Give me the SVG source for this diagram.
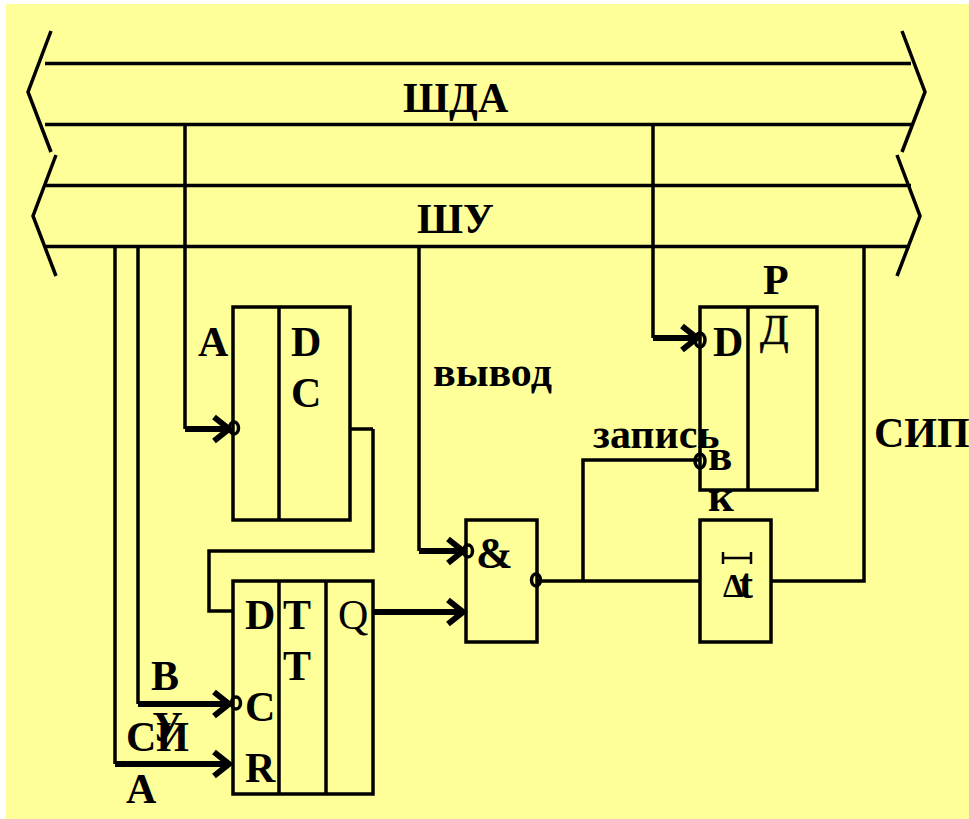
<svg xmlns="http://www.w3.org/2000/svg" width="969" height="819" viewBox="0 0 969 819">
<style>
.l{fill:none;stroke:#000;stroke-width:3.5}
.h{fill:none;stroke:#000;stroke-width:6}
.b{fill:none;stroke:#000;stroke-width:3.5}
.c{fill:none;stroke:#000;stroke-width:3.5}
text{font-family:"Liberation Serif","Times New Roman",serif;font-size:42px;fill:#000}
.w{font-weight:bold}
</style>
<rect id="background" width="969" height="819" fill="#fff"/>
<rect x="6" y="4" width="963" height="815" fill="#ffff99"/>
<g id="bus-sda">
<path class="l" d="M51 31L28 92L51 152M902 31L925 92L902 152M45 63.5H911M45 124.5H912"/>
<text class="w" x="403" y="112">ШДА</text>
</g>
<g id="bus-su">
<path class="l" d="M56 155L33 216L56 276M897 155L920 216L897 276M45 185.5H911M45 246.5H910"/>
<text class="w" x="417" y="233">ШУ</text>
</g>
<g id="connectors">
<path class="l" d="M185 124V429M653 124V338M419 246V551M115 246V764M138 246V704M864 246V581H772M373 429V551H209V611H232M350 429H373M537 581H700M583 581V460H700"/>
<path class="h" d="M185 429H228M214 417L229 429L214 441M653 338H696M682 326L697 338L682 350M419 551H462M448 539L463 551L448 563M138 704H228M214 692L229 704L214 716M115 764H228M214 752L229 764L214 776M373 612H462M448 600L463 612L448 624"/>
</g>
<g id="decoder">
<rect class="b" x="233" y="307" width="117" height="213"/>
<path class="b" d="M279 307V520"/>
<ellipse class="c" cx="234" cy="428" rx="4.5" ry="6"/>
<text class="w" x="198" y="356">А</text>
<text class="w" x="291" y="356">D</text>
<text class="w" x="291" y="407">C</text>
</g>
<g id="trigger">
<rect class="b" x="233" y="581" width="140" height="213"/>
<path class="b" d="M279 581V794M326 581V794"/>
<ellipse class="c" cx="236" cy="703" rx="4.5" ry="6"/>
<text class="w" x="245" y="629">D</text>
<text class="w" x="283" y="629">T</text>
<text class="w" x="283" y="680">T</text>
<text x="338" y="629">Q</text>
<text class="w" x="245" y="721">C</text>
<text class="w" x="245" y="782">R</text>
<text class="w" x="151" y="690">В</text>
<text class="w" x="152" y="741">У</text>
<text class="w" x="126" y="751">СИ</text>
<text class="w" x="126" y="803">А</text>
</g>
<g id="and-gate">
<rect class="b" x="466" y="520" width="71" height="122"/>
<ellipse class="c" cx="468" cy="551" rx="4.5" ry="6"/>
<ellipse class="c" cx="536" cy="580" rx="4.5" ry="6"/>
<text class="w" x="476" y="568" style="font-size:44px">&amp;</text>
</g>
<g id="register">
<rect class="b" x="700" y="307" width="117" height="183"/>
<path class="b" d="M748 307V490"/>
<ellipse class="c" cx="700" cy="340" rx="5" ry="7"/>
<ellipse class="c" cx="700" cy="461" rx="5" ry="7"/>
<text class="w" x="763" y="294">Р</text>
<text x="760" y="344" style="stroke:#000;stroke-width:.6">Д</text>
<text class="w" x="713" y="356">D</text>
<text class="w" x="708" y="470" style="font-size:45px">в</text>
<text class="w" x="708" y="511" style="font-size:45px">к</text>
</g>
<g id="delay">
<rect class="b" x="700" y="520" width="71" height="122"/>
<path class="b" d="M723 552V564M751 552V564M723 558H751" style="stroke-width:2.5"/>
<text class="w" x="723" y="597" style="font-size:33px">Δ</text>
<text class="w" x="739" y="598">t</text>
</g>
<g id="labels">
<text class="w" x="433" y="386">вывод</text>
<text class="w" x="593" y="448">запись</text>
<text class="w" x="874" y="447">СИП</text>
</g>
</svg>
